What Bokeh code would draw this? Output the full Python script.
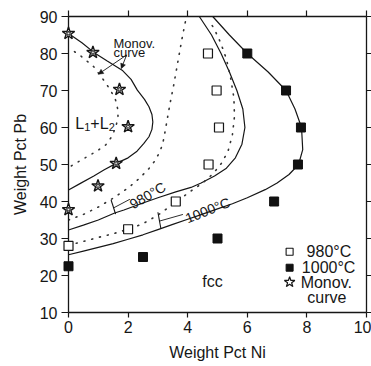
from bokeh.plotting import figure
from bokeh.models import Range1d, LinearAxis, FixedTicker, Arrow, NormalHead, Label
from bokeh.embed import file_html
from bokeh.resources import INLINE

# ---------------- data ----------------
# 980 C experimental points (open squares)
ni_980 = [0.0, 2.0, 3.6, 4.7, 5.05, 4.97, 4.68]
pb_980 = [28.0, 32.5, 40.0, 50.0, 60.0, 70.0, 80.0]
# 1000 C experimental points (filled squares)
ni_1000 = [0.0, 2.5, 5.0, 6.9, 7.7, 7.8, 7.3, 6.0]
pb_1000 = [22.5, 25.0, 30.0, 40.0, 50.0, 60.0, 70.0, 80.0]
# monovariant curve points (stars)
ni_mono = [0.0, 0.82, 1.71, 2.0, 1.6, 0.99, 0.0]
pb_mono = [85.4, 80.3, 70.3, 60.2, 50.3, 44.2, 37.8]

# monotectic boundary (solid, inner)
ni_curveA = [0.0, 0.45, 0.85, 1.3, 1.8, 2.1, 2.31, 2.55, 2.7, 2.8, 2.83, 2.8, 2.7, 2.53, 2.3, 2.0, 1.6, 1.2, 0.85, 0.4, 0.0]
pb_curveA = [85.4, 82.9, 80.3, 78.0, 75.5, 73.0, 70.1, 67.6, 65.6, 63.5, 61.5, 59.5, 57.5, 55.7, 53.6, 51.8, 50.3, 48.6, 46.9, 44.9, 43.1]
# monovariant curve (dotted, inner)
ni_dotA = [0.2, 0.45, 0.85, 1.18, 1.41, 1.58, 1.66, 1.66, 1.58, 1.45, 1.25, 0.95, 0.62, 0.3, 0.05]
pb_dotA = [80.5, 79.1, 76.4, 72.8, 70.1, 67.4, 64.7, 62.5, 60.0, 57.5, 55.3, 53.6, 52.1, 50.6, 49.4]
# 980 C boundary (solid)
ni_solid980 = [0.0, 0.5, 1.0, 1.55, 1.86, 2.5, 3.0, 3.6, 4.11, 4.45, 4.9, 5.3, 5.6, 5.82, 5.92, 5.85, 5.65, 5.4, 5.12, 4.8, 4.39]
pb_solid980 = [32.3, 33.6, 35.0, 36.9, 37.7, 39.6, 41.0, 42.6, 43.8, 45.0, 46.9, 49.0, 51.8, 55.5, 60.0, 65.0, 70.0, 75.0, 80.0, 85.0, 90.0]
# 980 C boundary (dotted)
ni_dot980 = [0.0, 0.5, 1.0, 1.52, 1.97, 2.25, 2.48, 2.7, 2.87, 3.04, 3.16, 3.25, 3.33, 3.42, 3.52, 3.62, 3.72, 3.82, 3.92, 3.97]
pb_dot980 = [35.0, 36.5, 38.5, 41.0, 43.5, 45.3, 47.1, 48.9, 50.7, 53.0, 55.5, 59.3, 63.0, 67.0, 71.0, 75.5, 80.0, 84.5, 88.5, 90.0]
# 1000 C boundary (solid)
ni_solid1000 = [0.0, 0.5, 1.0, 1.5, 2.0, 2.5, 3.0, 3.5, 4.0, 4.5, 5.0, 5.5, 6.0, 6.6, 7.0, 7.4, 7.72, 7.86, 7.82, 7.6, 7.3, 6.7, 6.0, 5.4, 4.84]
pb_solid1000 = [25.6, 26.6, 27.6, 28.6, 29.8, 31.0, 32.4, 33.8, 35.2, 36.6, 38.0, 39.4, 41.0, 43.2, 45.0, 47.3, 50.0, 54.0, 60.0, 65.0, 70.0, 75.0, 80.0, 85.0, 90.0]
# 1000 C boundary (dotted)
ni_dot1000 = [0.0, 0.5, 1.0, 1.5, 2.0, 2.5, 3.0, 3.6, 4.1, 4.5, 4.85, 5.13, 5.35, 5.5, 5.57, 5.55, 5.45, 5.3, 5.1, 4.9, 4.75]
pb_dot1000 = [28.2, 29.2, 30.3, 31.3, 32.5, 34.0, 36.3, 39.8, 42.8, 45.0, 47.5, 50.3, 53.5, 58.0, 63.0, 68.0, 73.0, 78.5, 83.0, 86.5, 88.5]

x_ticks = [0, 2, 4, 6, 8, 10]
y_ticks = [10, 20, 30, 40, 50, 60, 70, 80, 90]
legend_labels = ["980\u00b0C", "1000\u00b0C", "Monov.", "curve"]

FONT = "Liberation Sans"
INK = "#161616"

p = figure(width=371, height=366, x_range=Range1d(0, 10), y_range=Range1d(10, 90),
           output_backend="svg", toolbar_location=None,
           min_border_left=68, min_border_right=5, min_border_top=16, min_border_bottom=54,
           x_axis_label="Weight Pct Ni", y_axis_label="Weight Pct Pb")
p.grid.visible = False
p.outline_line_color = None
p.background_fill_color = "white"
p.border_fill_color = "white"

def style_axis(ax, ticks, labels=True):
    ax.ticker = FixedTicker(ticks=ticks)
    ax.axis_line_color = INK
    ax.axis_line_width = 1.3
    ax.major_tick_line_color = INK
    ax.major_tick_line_width = 1.2
    ax.major_tick_in = 0
    ax.major_tick_out = 6
    ax.minor_tick_line_color = None
    ax.major_label_text_font = FONT
    ax.axis_label_text_font = FONT
    ax.axis_label_text_font_style = "normal"
    ax.axis_label_text_font_size = "16px"
    ax.axis_label_text_color = INK
    if labels:
        ax.major_label_text_font_size = "16px"
        ax.major_label_text_color = INK
    else:
        ax.major_label_text_font_size = "1px"
        ax.major_label_text_color = None
        ax.major_label_standoff = 0

style_axis(p.xaxis[0], x_ticks)
p.xaxis[0].major_tick_out = 5
p.xaxis[0].major_label_standoff = 3
p.xaxis[0].axis_label_standoff = 8
style_axis(p.yaxis[0], y_ticks)
p.yaxis[0].major_tick_out = 7
p.yaxis[0].major_label_standoff = 4
p.yaxis[0].axis_label_standoff = 8

top = LinearAxis()
style_axis(top, x_ticks, labels=False)
right = LinearAxis()
style_axis(right, y_ticks, labels=False)
right.major_tick_out = 5
p.add_layout(top, "above")
p.add_layout(right, "right")

# curves
p.line(ni_curveA, pb_curveA, line_color=INK, line_width=1.2)
p.line(ni_solid980, pb_solid980, line_color=INK, line_width=1.2)
p.line(ni_solid1000, pb_solid1000, line_color=INK, line_width=1.2)
for xs, ys in [(ni_dotA, pb_dotA), (ni_dot980, pb_dot980), (ni_dot1000, pb_dot1000)]:
    p.line(xs, ys, line_color="#333333", line_width=1.6, line_dash="1 7", line_cap="round")

# markers
r1 = p.scatter(ni_980, pb_980, marker="square", size=9, fill_color="white", line_color=INK, line_width=1.2)
r2 = p.scatter(ni_1000, pb_1000, marker="square", size=9, fill_color="#111111", line_color="#111111")
r3 = p.scatter(ni_mono, pb_mono, marker="star", size=13, fill_color="white", line_color=INK, line_width=1.4)
r4 = p.scatter(ni_mono, pb_mono, marker="star", size=5, fill_color=None, line_color=INK, line_width=0.8)
for r in (r1, r2, r3, r4):
    r.level = "overlay"

# leaders for temperature labels
p.line([1.43, 1.58], [40.4, 36.6], line_color=INK, line_width=1.1)
p.line([1.52, 2.06], [38.3, 40.6], line_color=INK, line_width=0.9)
p.line([3.0, 3.1], [37.1, 32.7], line_color=INK, line_width=1.1)
p.line([3.05, 3.84], [34.7, 36.5], line_color=INK, line_width=0.9)

p.add_layout(Label(x=2.09, y=39.0, text="980\u00b0C", angle=0.53, text_font=FONT,
                   text_font_size="14px", text_color=INK, text_baseline="alphabetic"))
p.add_layout(Label(x=3.94, y=35.3, text="1000\u00b0C", angle=0.38, text_font=FONT,
                   text_font_size="14px", text_color=INK, text_baseline="alphabetic"))

# Monov. curve annotation with arrows
p.add_layout(Label(x=1.51, y=82.8, text="Monov.", text_font=FONT, text_font_size="13px",
                   text_color=INK, text_baseline="alphabetic"))
p.add_layout(Label(x=1.51, y=80.2, text="curve", text_font=FONT, text_font_size="13px",
                   text_color=INK, text_baseline="alphabetic"))
for xe, ye in [(1.0, 74.4), (1.77, 75.9)]:
    p.add_layout(Arrow(end=NormalHead(size=5, fill_color=INK, line_color=INK, line_width=0.5),
                       x_start=1.95, y_start=79.6, x_end=xe, y_end=ye, line_color=INK, line_width=0.9))

# L1+L2
for txt, dx, dy, fs in [("L", 0, 0, "16px"), ("1", 9, -4, "11px"), ("+", 15, 0, "16px"),
                        ("L", 24.5, 0, "16px"), ("2", 33.5, -4, "11px")]:
    p.add_layout(Label(x=0.23, y=61.2, x_offset=dx, y_offset=dy, text=txt, text_font=FONT,
                       text_font_size=fs, text_color=INK, text_baseline="alphabetic"))

# fcc
p.add_layout(Label(x=4.83, y=18.5, text="fcc", text_font=FONT, text_font_size="16px",
                   text_color=INK, text_align="center", text_baseline="middle"))

# legend
lg1 = p.scatter([7.42], [26.4], marker="square", size=7, fill_color="white", line_color=INK, line_width=1.1)
lg2 = p.scatter([7.42], [22.1], marker="square", size=7, fill_color="#111111", line_color="#111111")
lg3 = p.scatter([7.42], [18.2], marker="star", size=11, fill_color="white", line_color=INK, line_width=1.2)
for txt, x, y, al in [(legend_labels[0], 7.99, 26.5, "left"), (legend_labels[1], 7.83, 22.2, "left"),
                      (legend_labels[2], 7.79, 18.2, "left"), (legend_labels[3], 8.67, 14.1, "center")]:
    p.add_layout(Label(x=x, y=y, text=txt, text_font=FONT, text_font_size="16px",
                       text_color=INK, text_align=al, text_baseline="middle"))

open("out.html", "w").write(file_html(p, INLINE))
